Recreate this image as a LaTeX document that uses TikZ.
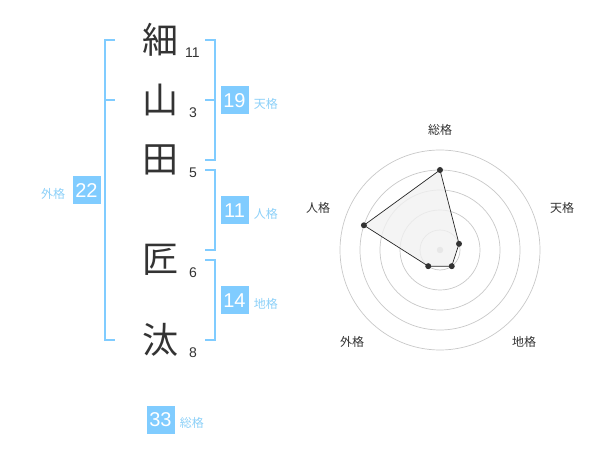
\documentclass[tikz,border=0pt]{standalone}
\usepackage{fontspec}
\setmainfont{Liberation Sans}
\newfontfamily\cjk{Noto Sans CJK JP}
\usepackage{tikz}
\usetikzlibrary{positioning}
\definecolor{kakuBlue}{RGB}{128,204,255}
\definecolor{kakuLabel}{RGB}{140,208,248}
\definecolor{inkGray}{RGB}{51,51,51}
\definecolor{ringGray}{RGB}{200,200,200}
\definecolor{hubGray}{RGB}{195,195,195}
\definecolor{areaGray}{RGB}{241,241,241}

\begin{document}
\begin{tikzpicture}[x=1pt, y=-1pt]
    % Define styles for name, counts and boxes
    \tikzstyle{kanji} = [inner sep=0pt, text=inkGray, font=\cjk\fontsize{36}{36}\selectfont]
    \tikzstyle{strokes} = [inner sep=0pt, text=inkGray, font=\fontsize{14}{14}\selectfont]
    \tikzstyle{kakubox} = [fill=kakuBlue, minimum size=28pt, inner sep=0pt, text=white, font=\fontsize{20}{20}\selectfont]
    \tikzstyle{kakuname} = [inner sep=0pt, yshift=-3.5pt, text=kakuLabel, font=\cjk\fontsize{12}{12}\selectfont]
    \tikzstyle{bracket} = [draw=kakuBlue, line width=2pt]
    % Styles for the chart
    \tikzstyle{ring} = [draw=ringGray, line width=0.7pt]
    \tikzstyle{axisname} = [inner sep=0pt, text=inkGray, font=\cjk\fontsize{12}{12}\selectfont]
    \tikzstyle{vertex} = [circle, fill=inkGray, inner sep=0pt, minimum size=6pt]
    \useasboundingbox (0,0) rectangle (600,470);

    % Characters
    \node (c1) [kanji] at (160,40) {細};
    \node (c2) [kanji] at (160,100) {山};
    \node (c3) [kanji] at (160,160) {田};
    \node (c4) [kanji] at (160,260) {匠};
    \node (c5) [kanji] at (160,340) {汰};
    % Stroke counts
    \node (s1) [strokes] at (192.5,53) {11};
    \node (s2) [strokes] at (193,113) {3};
    \node (s3) [strokes] at (193,173) {5};
    \node (s4) [strokes] at (193,273) {6};
    \node (s5) [strokes] at (193,353) {8};

    % Brackets
    \draw [bracket] (115,40) -- (105,40) -- (105,340) -- (115,340);
    \draw [bracket] (105,100) -- (115,100);
    \draw [bracket] (205,40) -- (215,40) -- (215,160) -- (205,160);
    \draw [bracket] (205,100) -- (215,100);
    \draw [bracket] (205,170) -- (215,170) -- (215,250) -- (205,250);
    \draw [bracket] (205,260) -- (215,260) -- (215,340) -- (205,340);

    % Boxes
    \node (gai) [kakubox] at (86.5,190.5) {22};
    \node (gaiName) [kakuname, left=7pt of gai] {外格};
    \node (ten) [kakubox] at (234.5,100.5) {19};
    \node (tenName) [kakuname, right=5pt of ten] {天格};
    \node (jin) [kakubox] at (234.5,210.5) {11};
    \node (jinName) [kakuname, right=5pt of jin] {人格};
    \node (chi) [kakubox] at (234.5,300.5) {14};
    \node (chiName) [kakuname, right=5pt of chi] {地格};
    \node (sou) [kakubox] at (160.5,419.5) {33};
    \node (souName) [kakuname, right=5pt of sou] {総格};

    % Chart
    \begin{scope}[shift={(440,250)}, y=1pt]
      \foreach \r in {20,40,...,100}
        \draw [ring] (0,0) circle (\r);
      \node (hub) [circle, fill=hubGray, inner sep=0pt, minimum size=6.5pt] at (0,0) {};
      \coordinate (pSou) at (90:80);
      \coordinate (pTen) at (18:20);
      \coordinate (pChi) at (-54:20);
      \coordinate (pGai) at (-126:20);
      \coordinate (pJin) at (162:80);
      \filldraw [fill=areaGray, fill opacity=0.8, draw=black!85, line width=0.7pt]
        (pSou) -- (pTen) -- (pChi) -- (pGai) -- (pJin) -- cycle;
      \foreach \p in {pSou,pTen,pChi,pGai,pJin}
        \node [vertex] at (\p) {};
      \node (aSou) [axisname] at (0,120) {総格};
      \node (aTen) [axisname] at (122,42) {天格};
      \node (aChi) [axisname] at (84,-92) {地格};
      \node (aGai) [axisname] at (-88,-92) {外格};
      \node (aJin) [axisname] at (-122,42) {人格};
    \end{scope}
\end{tikzpicture}
\end{document}
